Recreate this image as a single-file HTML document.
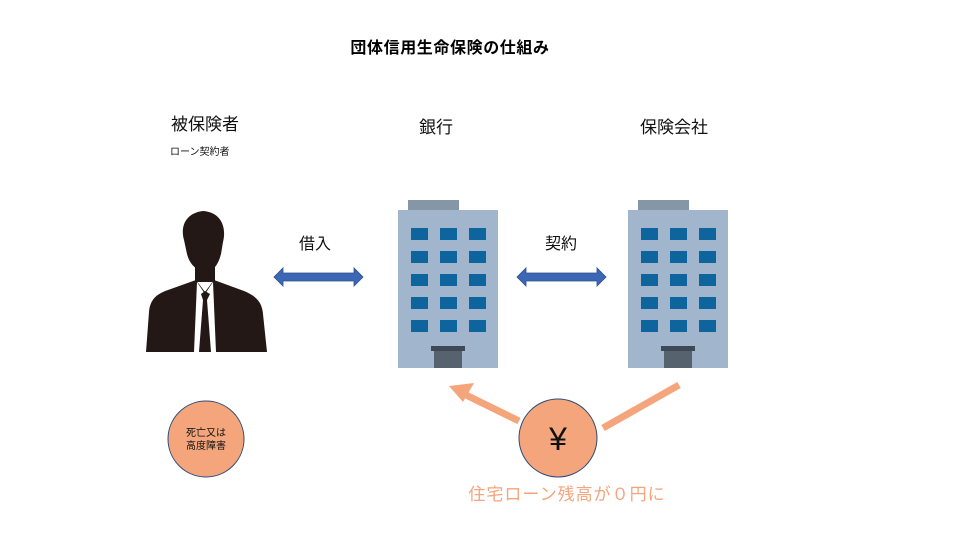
<!DOCTYPE html>
<html><head><meta charset="utf-8"><style>
body{margin:0;background:#fff;}
svg{display:block;}
text{font-family:"Liberation Sans","Noto Sans CJK JP",sans-serif;}
</style></head><body>
<svg width="960" height="540" viewBox="0 0 960 540" xmlns="http://www.w3.org/2000/svg">
<text x="450" y="53" font-size="16" font-weight="bold" text-anchor="middle" fill="#000" letter-spacing="0.6">団体信用生命保険の仕組み</text>
<text x="205" y="130" font-size="17" text-anchor="middle" fill="#111">被保険者</text>
<text x="170" y="155" font-size="10" fill="#111">ローン契約者</text>
<text x="436" y="133" font-size="17" text-anchor="middle" fill="#111">銀行</text>
<text x="674" y="133" font-size="17" text-anchor="middle" fill="#111">保険会社</text>
<text x="315" y="249" font-size="16" text-anchor="middle" fill="#111">借入</text>
<text x="561" y="249" font-size="16" text-anchor="middle" fill="#111">契約</text>

<!-- person -->
<g fill="#231815">
<path d="M184 240 C180 226 186 213 203 211 C220 212 227 226 223 242 L221 254 C218 266 212 272 206 272 C199 272 190 266 187 254 Z"/>
<rect x="195" y="262" width="20" height="20"/>
<path d="M146 352 L149 312 C150 300 156 294 168 290 L196 280 L205 292 L214 280 L244 291 C256 296 262 302 263 314 L267 352 Z"/>
</g>
<path d="M197 282 L205 294 L213 282 L216 352 L194 352 Z" fill="#fff"/>
<path d="M201 294 L205 291 L210 294 L207 300 L211 352 L199 352 L203 300 Z" fill="#231815"/>

<!-- arrows -->
<g fill="#3b67b4" stroke="#2c4f8c" stroke-width="0.8">
<path d="M274 277 L283 268 L283 273 L354 273 L354 268 L363 277 L354 286 L354 281 L283 281 L283 286 Z"/>
<path d="M517 277 L526 268 L526 273 L597 273 L597 268 L606 277 L597 286 L597 281 L526 281 L526 286 Z"/>
</g>

<!-- buildings -->
<defs>
<g id="b">
<rect x="408" y="200" width="51" height="10" fill="#8597a6"/>
<rect x="398" y="210" width="100" height="158" fill="#a1b6cd"/>
<g fill="#0e659e">
<rect x="411" y="228" width="17" height="12"/><rect x="440" y="228" width="17" height="12"/><rect x="469" y="228" width="17" height="12"/>
<rect x="411" y="251" width="17" height="12"/><rect x="440" y="251" width="17" height="12"/><rect x="469" y="251" width="17" height="12"/>
<rect x="411" y="274" width="17" height="12"/><rect x="440" y="274" width="17" height="12"/><rect x="469" y="274" width="17" height="12"/>
<rect x="411" y="297" width="17" height="12"/><rect x="440" y="297" width="17" height="12"/><rect x="469" y="297" width="17" height="12"/>
<rect x="411" y="320" width="17" height="12"/><rect x="440" y="320" width="17" height="12"/><rect x="469" y="320" width="17" height="12"/>
</g>
<rect x="431" y="346" width="34" height="5" fill="#3d4a55"/>
<rect x="434" y="351" width="28" height="17" fill="#56636e"/>
</g>
</defs>
<use href="#b"/>
<use href="#b" transform="translate(230,0)"/>

<!-- orange arrows -->
<g stroke="#f4a57b" stroke-width="7" fill="none">
<line x1="519" y1="421" x2="466" y2="395"/>
<line x1="603" y1="428" x2="679" y2="385"/>
</g>
<path d="M449 386 L474 383 L463 402 Z" fill="#f4a57b"/>

<circle cx="558" cy="438" r="39" fill="#f4a57b" stroke="#2f4a7a" stroke-width="1"/>
<text x="558" y="450" font-size="32" text-anchor="middle" fill="#111">¥</text>
<text x="567" y="500" font-size="17" text-anchor="middle" fill="#f4a57b" letter-spacing="1">住宅ローン残高が０円に</text>

<circle cx="206" cy="439" r="38" fill="#f4a57b" stroke="#2f4a7a" stroke-width="1"/>
<text x="206" y="436" font-size="10" text-anchor="middle" fill="#111">死亡又は</text>
<text x="206" y="449" font-size="10" text-anchor="middle" fill="#111">高度障害</text>
</svg>
</body></html>
